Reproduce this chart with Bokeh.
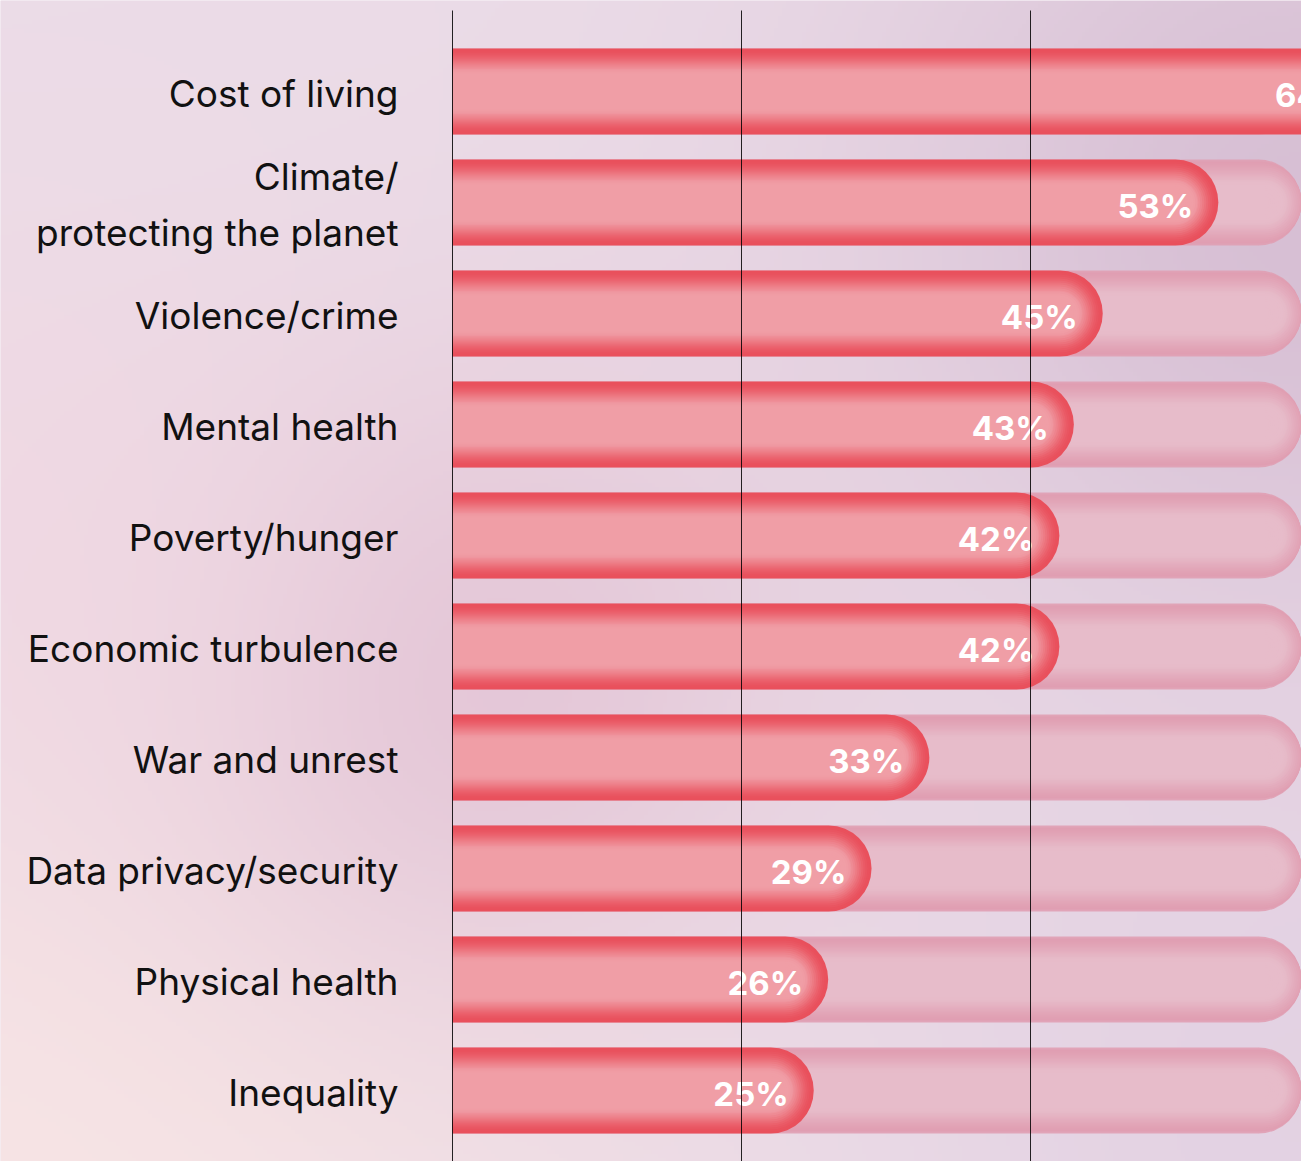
import numpy as np
from bokeh.plotting import figure
from bokeh.models import Range1d
from bokeh.core.properties import value
from bokeh.embed import file_html
from bokeh.resources import INLINE

# ---------------- data ----------------
categories = [
    "Cost of living",
    "Climate/\nprotecting the planet",
    "Violence/crime",
    "Mental health",
    "Poverty/hunger",
    "Economic turbulence",
    "War and unrest",
    "Data privacy/security",
    "Physical health",
    "Inequality",
]
values = [64, 53, 45, 43, 42, 42, 33, 29, 26, 25]
value_labels = [f"{v}%" for v in values]
track_max = 59.2
grid_ticks = [0, 20, 40]

# ---------------- layout constants ----------------
W, H = 1301, 1161
ZERO_PX = 452          # figure x pixel of 0%
PX_PER_PCT = 14.45
ROW_PX = 111
FIRST_CENTER_PX = 91   # from figure top
BAR_PX = 86
GRID_TOP_PX = 10

n = len(categories)
pos = [n - 1 - i for i in range(n)]
x0 = -ZERO_PX / PX_PER_PCT
x1 = (W - ZERO_PX) / PX_PER_PCT
y_top = (n - 1) + FIRST_CENTER_PX / ROW_PX
y_bot = y_top - H / ROW_PX

p = figure(width=W, height=H, x_range=Range1d(x0, x1), y_range=Range1d(y_bot, y_top),
           output_backend="svg", toolbar_location=None, min_border=0)
p.axis.visible = False
p.grid.visible = False
p.outline_line_color = None
p.background_fill_color = "#ecdde9"
p.border_fill_color = "#ecdde9"

# ---------------- decorative background gradient ----------------
gw, gh = 326, 291
sx = np.linspace(0, W, gw)[None, :]
sy = np.linspace(0, H, gh)[:, None]
col = np.zeros((gh, gw, 3)) + np.array([235, 220, 232], float)
blobs = [
    ((0, 1169), 480, (247, 229, 229), 1.0),
    ((1309, 220), 320, (213, 188, 210), 0.9),
    ((470, 680), 230, (225, 192, 211), 0.8),
    ((1309, 1120), 320, (224, 206, 225), 0.7),
    ((0, 560), 260, (240, 214, 226), 0.6),
]
for (cx, cy), s, c, k in blobs:
    w = k * np.exp(-((sx - cx) ** 2 + (sy - cy) ** 2) / (2 * s * s))
    w = w[:, :, None]
    col = col * (1 - w) + np.array(c, float) * w
rgba = np.empty((gh, gw), dtype=np.uint32)
view = rgba.view(dtype=np.uint8).reshape((gh, gw, 4))
view[:, :, :3] = np.clip(col, 0, 255).astype(np.uint8)
view[:, :, 3] = 255
rgba = np.flipud(rgba).copy()
p.image_rgba(image=[rgba], x=x0, y=y_bot, dw=x1 - x0, dh=y_top - y_bot)

# ---------------- bars (concentric layers emulate gradient) ----------------
def smooth(t):
    t = min(max(t, 0.0), 1.0)
    return t * t * (3 - 2 * t)

def mix(a, b, t):
    return "#%02x%02x%02x" % tuple(int(round(a[j] + (b[j] - a[j]) * t)) for j in range(3))

N = 22
half = BAR_PX // 2
layers = []
for k in range(N):
    hk = int(round(half * (1 - k / N)))
    layers.append((k / N, hk))

for t, hk in layers:
    inset = (half - hk) / PX_PER_PCT
    tc = mix((224, 158, 178), (231, 188, 202), smooth(t / 0.6))
    p.hbar(y=pos, left=0, right=[track_max - inset] * n, height=2 * hk / ROW_PX,
           fill_color=tc, fill_alpha=0.9 if t == 0 else 1.0, line_color=None,
           border_radius=(0, hk, hk, 0))

# bars whose end lies inside the view get rounded ends; longer ones run off the edge
inside = [i for i in range(n) if values[i] <= x1]
outside = [i for i in range(n) if values[i] > x1]
for t, hk in layers:
    inset = (half - hk) / PX_PER_PCT
    bc = mix((233, 80, 92), (240, 158, 166), smooth(t / 0.6))
    if inside:
        p.hbar(y=[pos[i] for i in inside], left=0,
               right=[values[i] - inset for i in inside], height=2 * hk / ROW_PX,
               fill_color=bc, line_color=None, border_radius=(0, hk, hk, 0))
    if outside:
        p.hbar(y=[pos[i] for i in outside], left=0,
               right=[values[i] for i in outside], height=2 * hk / ROW_PX,
               fill_color=bc, line_color=None)

# ---------------- value labels ----------------
p.text(x=values, y=pos, text=value_labels, x_offset=-25, y_offset=3,
       text_align="right", text_baseline="middle",
       text_font=value("Inter"), text_font_style="bold", text_font_size="33px",
       text_color="white")

# ---------------- category labels ----------------
p.text(x=[0] * n, y=pos, text=categories, x_offset=-54, y_offset=2,
       text_align="right", text_baseline="middle", text_line_height=1.25,
       text_font=value("Inter"), text_font_size="37px", text_color="#111111")

# ---------------- vertical grid lines on top ----------------
g_top = y_top - GRID_TOP_PX / ROW_PX
p.segment(x0=grid_ticks, x1=grid_ticks, y0=[g_top] * len(grid_ticks),
          y1=[y_bot] * len(grid_ticks), line_color="black", line_alpha=0.85,
          line_width=1)

open("out.html", "w").write(file_html(p, INLINE))
